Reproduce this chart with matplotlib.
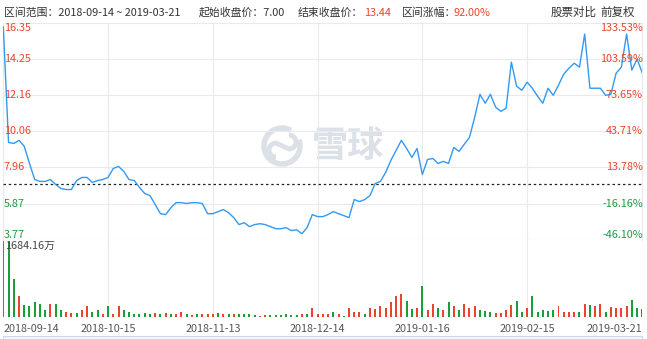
import matplotlib
matplotlib.use("Agg")
import matplotlib.pyplot as plt
from matplotlib.patches import Arc
import numpy as np

plt.rcParams['font.family'] = ['Noto Sans CJK SC', 'DejaVu Sans']

# ---------------- data ----------------
start_date = "2018-09-14"
end_date = "2019-03-21"
start_close = 7.00
end_close = 13.44
change_pct = "92.00%"

price = [16.10, 9.41, 9.35, 9.53, 9.18, 8.19, 7.26, 7.15, 7.15, 7.26,
         6.97, 6.74, 6.68, 6.68, 7.20, 7.38, 7.38, 7.09, 7.20, 7.26,
         7.38, 7.90, 8.02, 7.73, 7.26, 7.20, 6.80, 6.45, 6.33, 5.81,
         5.28, 5.23, 5.63, 5.92, 5.92, 5.87, 5.92, 5.92, 5.87, 5.28,
         5.28, 5.40, 5.52, 5.34, 5.05, 4.65, 4.76, 4.53, 4.65, 4.70,
         4.65, 4.53, 4.41, 4.41, 4.47, 4.30, 4.35, 4.12, 4.47, 5.23,
         5.11, 5.11, 5.23, 5.40, 5.28, 5.17, 5.05, 6.10, 5.98, 6.10,
         6.33, 7.03, 7.15, 7.67, 8.37, 8.95, 9.53, 9.06, 8.54, 9.06,
         7.55, 8.42, 8.48, 8.19, 8.31, 8.19, 9.12, 8.89, 9.30, 9.70,
         10.87, 12.20, 11.68, 12.20, 11.45, 11.21, 11.39, 14.06, 12.67, 12.43,
         12.90, 12.55, 12.09, 11.68, 12.55, 12.14, 12.73, 13.37, 13.71, 14.00,
         13.77, 15.69, 12.55, 12.55, 12.55, 12.14, 12.20, 13.42, 13.77, 15.69,
         13.60, 14.24, 13.44]

volume = [1684, 1650, 835, 469, 271, 234, 337, 293, 146, 293,
          293, 161, 117, 88, 88, 146, 234, 117, 146, 73,
          249, 73, 249, 146, 117, 73, 73, 88, 73, 88,
          59, 88, 59, 59, 117, 73, 44, 59, 59, 59,
          59, 88, 73, 73, 59, 59, 59, 59, 44, 29,
          44, 51, 51, 51, 73, 51, 44, 59, 73, 190,
          73, 59, 73, 102, 73, 29, 190, 102, 117, 73,
          190, 176, 234, 205, 337, 454, 498, 344, 176, 198,
          673, 161, 278, 198, 161, 337, 234, 146, 278, 205,
          234, 146, 132, 117, 88, 88, 161, 264, 344, 117,
          205, 454, 102, 161, 132, 146, 234, 117, 102, 102,
          117, 293, 264, 234, 278, 102, 220, 205, 205, 249,
          366, 205, 176]

vol_up = ("RGGRGGGGGR" "GGRRGRRGGR" "GRRGGGGGGR" "GRGRRGRGRR"
          "RGRGRGGGGR" "RGGGGGGRGR" "RRRGRGRRRG" "RRRRRRRGGR"
          "GRRGRGRGRR" "RGGGRRRRGG" "RGGGGGRRRR" "GRGRRGRRRR"
          "GGG")

price_ticks = [16.35, 14.25, 12.16, 10.06, 7.96, 5.87, 3.77]
pct_ticks = ["133.53%", "103.59%", "73.65%", "43.71%", "13.78%", "-16.16%", "-46.10%"]
date_labels = ["2018-09-14", "2018-10-15", "2018-11-13", "2018-12-14",
               "2019-01-16", "2019-02-15", "2019-03-21"]
max_volume_label = "1684.16万"
y_min, y_max = 3.773, 16.347
vol_max = 1684.16

# ---------------- styles ----------------
RED = '#e8452c'
GREEN = '#1a9e3a'
BLUE = '#3399f3'
GRID = '#e9eaef'
TXT = '#333333'

W, H = 647, 339
fig = plt.figure(figsize=(W / 100, H / 100), dpi=100)

def fx(px):
    return px / W

def fy(py):
    return 1 - py / H

n = len(price)
xs = np.arange(n)
x_left_px, x_right_px = 3.3, 642.3
ax_l = fx(x_left_px)
ax_w = fx(x_right_px - x_left_px)

# watermark layer
ax_wm = fig.add_axes([0, 0, 1, 1])
ax_wm.set_xlim(0, W)
ax_wm.set_ylim(H, 0)
ax_wm.axis('off')
wm = '#dce0e7'
ax_wm.add_patch(Arc((282, 146), 36, 36, theta1=-20, theta2=300, color=wm, lw=4))
ax_wm.add_patch(Arc((276, 150), 14, 14, theta1=90, theta2=270, color=wm, lw=3.5))
ax_wm.add_patch(Arc((289, 142), 14, 14, theta1=-90, theta2=90, color=wm, lw=3.5))
ax_wm.plot([276, 289], [143, 149], color=wm, lw=3.5, solid_capstyle='round')
ax_wm.text(348, 147, "雪球", fontsize=26, color=wm, ha='center', va='center',
           fontweight='bold')

# price axes
top_px, bot_px = 22.7, 239.7
ax = fig.add_axes([ax_l, fy(bot_px), ax_w, (bot_px - top_px) / H])
ax.set_xlim(0, n - 1)
ax.set_ylim(y_min, y_max)
ax.axis('off')
ax.patch.set_alpha(0)

grid_idx = [0, 20, 40, 60, 80, 100, n - 1]
tick_vals = np.linspace(y_max, y_min, 7)
for v in tick_vals:
    ax.axhline(v, color=GRID, lw=0.8, zorder=0)
for gi in grid_idx:
    ax.axvline(gi, color=GRID, lw=0.8, zorder=0, clip_on=False)

ax.plot(xs, price, color=BLUE, lw=1.0, zorder=3, solid_joinstyle='round')
ax.axhline(start_close, color='#222222', lw=0.9, ls=(0, (2, 2.2)), zorder=2)

# y labels
for k, (v, lab, pl) in enumerate(zip(tick_vals, price_ticks, pct_ticks)):
    col = RED if v > start_close else GREEN
    va = 'top' if k == 0 else ('bottom' if k == len(tick_vals) - 1 else 'center')
    ax.text(0.05, v, f"{lab:.2f}", color=col, fontsize=7.8, ha='left', va=va, zorder=4)
    ax.text(n - 1 + 0.1, v, pl, color=col, fontsize=7.8, ha='right', va=va, zorder=4)

# volume axes
vtop_px, vbot_px = 240.5, 317
axv = fig.add_axes([ax_l, fy(vbot_px), ax_w, (vbot_px - vtop_px) / H])
axv.set_xlim(0, n - 1)
axv.set_ylim(0, vol_max)
axv.axis('off')
axv.patch.set_alpha(0)
for gi in grid_idx:
    axv.axvline(gi, color=GRID, lw=0.8, zorder=0)
cols = [RED if c == 'R' else GREEN for c in vol_up]
axv.bar(xs, volume, width=0.38, color=cols, zorder=2)
axv.text(0.3, vol_max * 0.99, max_volume_label, color='#444444', fontsize=7.8,
         ha='left', va='top', zorder=3)

# date labels
for k, (gi, lab) in enumerate(zip(grid_idx, date_labels)):
    ha = 'left' if k == 0 else ('right' if k == len(date_labels) - 1 else 'center')
    axv.text(gi, -vol_max * 0.09, lab, color='#555555', fontsize=7.8, ha=ha, va='top')

# header
hy = fy(12.5)
fs = 7.8
fig.text(fx(4), hy, f"区间范围：{start_date} ~ {end_date}", color=TXT, fontsize=fs, va='center')
fig.text(fx(199), hy, f"起始收盘价：{start_close:.2f}", color=TXT, fontsize=fs, va='center')
fig.text(fx(298), hy, "结束收盘价：", color=TXT, fontsize=fs, va='center')
fig.text(fx(364), hy, f"{end_close:.2f}", color=RED, fontsize=fs, va='center')
fig.text(fx(402), hy, "区间涨幅：", color=TXT, fontsize=fs, va='center')
fig.text(fx(453), hy, change_pct, color=RED, fontsize=fs, va='center')
fig.text(fx(551), hy, "股票对比", color=TXT, fontsize=fs + 0.5, va='center')
fig.text(fx(600), hy, "前复权", color=TXT, fontsize=fs + 0.5, va='center')

# bottom navigator strip
ax_wm.add_patch(plt.Rectangle((3, 335.5), 639, 6, facecolor='#f3f6fb',
                              edgecolor='#cdd8ea', lw=0.8))

fig.savefig("out.png", dpi=100)
